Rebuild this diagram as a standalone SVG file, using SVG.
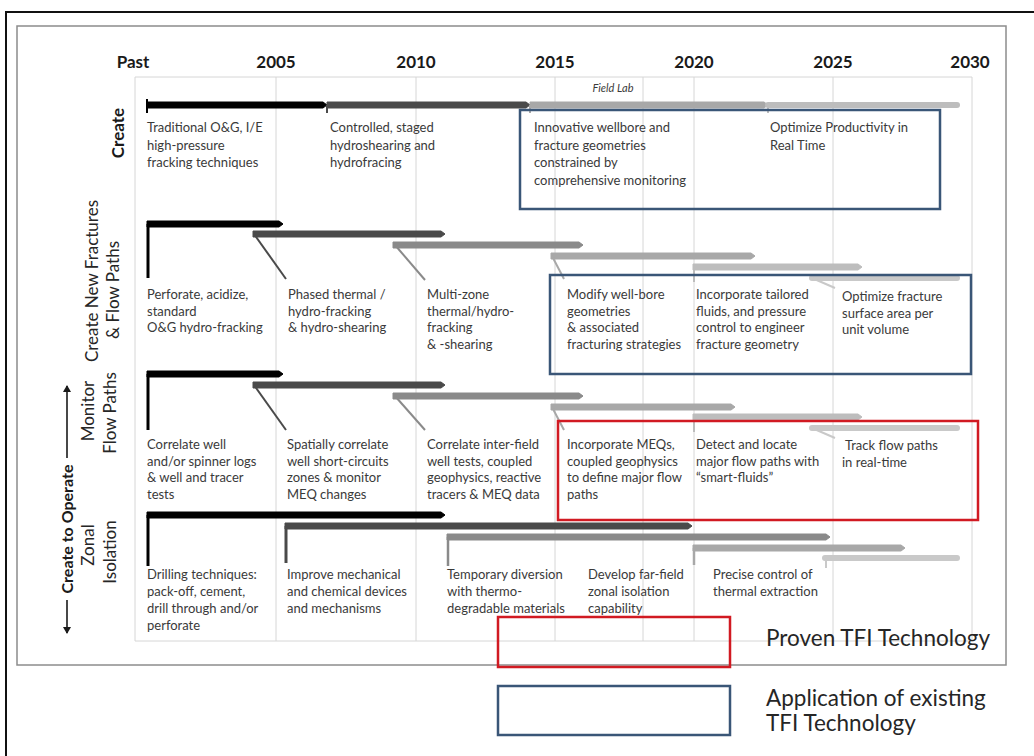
<svg xmlns="http://www.w3.org/2000/svg" width="1034" height="756" viewBox="0 0 1034 756">
<style>
text{font-family:Lato,"Liberation Sans",sans-serif;fill:#3a3a3a}
.t{font-size:13px}
.h{font-size:17px;font-weight:bold;fill:#1a1a1a;text-anchor:middle}
.rl{font-size:17px;text-anchor:middle;fill:#262626}
.rb{font-size:17px;font-weight:bold;text-anchor:middle;fill:#1a1a1a}
.ro{font-size:16px;font-weight:bold;text-anchor:middle;fill:#1a1a1a}
.fl{font-size:11px;font-style:italic;text-anchor:middle}
.lg{font-size:22.5px;fill:#262626}
.grid{stroke:#d6d6d6;stroke-width:1;fill:none}
.blue{fill:none;stroke:#3a5677;stroke-width:2.5}
.red{fill:none;stroke:#d11a22;stroke-width:2.5}
.c0{fill:#000;stroke:#000}
.c1{fill:#4a4a4a;stroke:#4a4a4a}
.c2{fill:#8a8a8a;stroke:#8a8a8a}
.c3{fill:#a8a8a8;stroke:#a8a8a8}
.c4{fill:#bdbdbd;stroke:#bdbdbd}
.c5{fill:#c9c9c9;stroke:#c9c9c9}
.ln{fill:none;stroke-width:2}
</style>
<defs>
<marker id="ah" markerWidth="8" markerHeight="8" refX="6" refY="4" orient="auto" markerUnits="userSpaceOnUse"><path d="M0,0 L7,4 L0,8 Z" fill="#1a1a1a"/></marker>
</defs>
<rect width="1034" height="756" fill="#fff"/>
<rect x="6" y="12" width="1040" height="760" fill="none" stroke="#111" stroke-width="2"/>
<rect x="17" y="26" width="989" height="639" fill="none" stroke="#8c8c8c" stroke-width="1.5"/>

<g id="grid">
<path class="grid" d="M135,77 H972 M135,77 V641 H972 M276,77 V641 M416,77 V641 M555,77 V641 M643,77 V641 M694,77 V641 M833,77 V641 M972,77 V641"/>
</g>

<g id="headers">
<text class="h" x="133" y="68">Past</text>
<text class="h" x="276" y="68">2005</text>
<text class="h" x="416" y="68">2010</text>
<text class="h" x="555" y="68">2015</text>
<text class="h" x="694" y="68">2020</text>
<text class="h" x="833" y="68">2025</text>
<text class="h" x="970" y="68">2030</text>
</g>

<g id="row-labels">
<text class="rb" transform="translate(124,133) rotate(-90)">Create</text>
<text class="rl" transform="translate(98,281) rotate(-90)">Create New Fractures</text>
<text class="rl" transform="translate(119,290) rotate(-90)">&amp; Flow Paths</text>
<text class="rl" transform="translate(94,411) rotate(-90)">Monitor</text>
<text class="rl" transform="translate(116,413) rotate(-90)">Flow Paths</text>
<text class="rl" transform="translate(94,545) rotate(-90)">Zonal</text>
<text class="rl" transform="translate(116,552) rotate(-90)">Isolation</text>
<text class="ro" transform="translate(73,529) rotate(-90)">Create to Operate</text>
<line x1="67" y1="458" x2="67" y2="386" stroke="#1a1a1a" stroke-width="1.6" marker-end="url(#ah)"/>
<line x1="67" y1="600" x2="67" y2="633" stroke="#1a1a1a" stroke-width="1.6" marker-end="url(#ah)"/>
</g>

<g id="connectors">
<polygon class="c0" points="147,102 323,102 327,105 323,108 147,108"/>
<line class="c0" x1="147" y1="99" x2="147" y2="113" stroke-width="2"/>
<polygon class="c1" points="327,102 526,102 530,105 526,108 327,108"/>
<line class="c1" x1="327" y1="105" x2="327" y2="113" stroke-width="2"/>
<polygon class="c3" points="530,102 764,102 768,105 764,108 530,108"/>
<line class="c3" x1="530" y1="105" x2="530" y2="113" stroke-width="2"/>
<line class="c4" x1="768" y1="105" x2="957" y2="105" stroke-width="6" stroke-linecap="round"/>
<line class="c4" x1="768" y1="105" x2="768" y2="113" stroke-width="2"/>
<polygon class="c0" points="147,221 279,221 283,224 279,227 147,227"/>
<line class="c0" x1="148" y1="224" x2="148" y2="278" stroke-width="3"/>
<polygon class="c1" points="253,231 441,231 445,234 441,237 253,237"/>
<line class="c1 ln" x1="254" y1="234" x2="286" y2="279"/>
<polygon class="c2" points="393,242 579,242 583,245 579,248 393,248"/>
<line class="c2 ln" x1="395" y1="245" x2="425" y2="280"/>
<polygon class="c3" points="551,253 751,253 755,256 751,259 551,259"/>
<line class="c3 ln" x1="552" y1="256" x2="564" y2="279"/>
<polygon class="c4" points="693,264 858,264 862,267 858,270 693,270"/>
<line class="c4 ln" x1="694" y1="267" x2="694" y2="282"/>
<line class="c5" x1="812" y1="278" x2="957" y2="278" stroke-width="6" stroke-linecap="round"/>
<line class="c5 ln" x1="812" y1="278" x2="835" y2="288"/>
<polygon class="c0" points="147,371 279,371 283,374 279,377 147,377"/>
<line class="c0" x1="148" y1="374" x2="148" y2="430" stroke-width="3"/>
<polygon class="c1" points="253,382 441,382 445,385 441,388 253,388"/>
<line class="c1 ln" x1="254" y1="385" x2="286" y2="430"/>
<polygon class="c2" points="393,393 579,393 583,396 579,399 393,399"/>
<line class="c2 ln" x1="395" y1="396" x2="425" y2="430"/>
<polygon class="c3" points="551,404 731,404 735,407 731,410 551,410"/>
<line class="c3 ln" x1="552" y1="407" x2="564" y2="430"/>
<polygon class="c4" points="693,414 858,414 862,417 858,420 693,420"/>
<line class="c4 ln" x1="694" y1="417" x2="694" y2="432"/>
<line class="c5" x1="812" y1="428" x2="957" y2="428" stroke-width="6" stroke-linecap="round"/>
<line class="c5 ln" x1="812" y1="428" x2="835" y2="438"/>
<polygon class="c0" points="147,512 441,512 445,515 441,518 147,518"/>
<line class="c0" x1="148" y1="515" x2="148" y2="566" stroke-width="3"/>
<polygon class="c1" points="285,523 688,523 692,526 688,529 285,529"/>
<line class="c1" x1="286" y1="526" x2="286" y2="563" stroke-width="3"/>
<polygon class="c2" points="447,534 826,534 830,537 826,540 447,540"/>
<line class="c2" x1="448" y1="537" x2="448" y2="566" stroke-width="2.5"/>
<polygon class="c3" points="693,545 901,545 905,548 901,551 693,551"/>
<line class="c3" x1="694" y1="548" x2="694" y2="565" stroke-width="2.5"/>
<line class="c5" x1="825" y1="558" x2="957" y2="558" stroke-width="6" stroke-linecap="round"/>
<line class="c5" x1="826" y1="558" x2="826" y2="568" stroke-width="2"/>
</g>

<g id="field-lab"><text class="fl" x="613" y="92">Field Lab</text></g>

<g id="box-create-blue"><rect class="blue" x="520" y="110" width="420" height="99"/></g>
<g id="box-fracture-blue"><rect class="blue" x="550" y="275" width="421" height="99"/></g>
<g id="box-monitor-red"><rect class="red" x="558" y="421" width="420" height="99"/></g>

<g id="create-1"><text class="t" x="147" y="132">Traditional O&amp;G, I/E<tspan x="147" dy="17.5">high-pressure</tspan><tspan x="147" dy="17.5">fracking techniques</tspan></text></g>
<g id="create-2"><text class="t" x="330" y="132">Controlled, staged<tspan x="330" dy="17.5">hydroshearing and</tspan><tspan x="330" dy="17.5">hydrofracing</tspan></text></g>
<g id="create-3"><text class="t" x="534" y="132">Innovative wellbore and<tspan x="534" dy="17.5">fracture geometries</tspan><tspan x="534" dy="17.5">constrained by</tspan><tspan x="534" dy="17.5">comprehensive monitoring</tspan></text></g>
<g id="create-4"><text class="t" x="770" y="132">Optimize Productivity in<tspan x="770" dy="17.5">Real Time</tspan></text></g>

<g id="frac-1"><text class="t" x="147" y="299">Perforate, acidize,<tspan x="147" dy="16.7">standard</tspan><tspan x="147" dy="16.7">O&amp;G hydro-fracking</tspan></text></g>
<g id="frac-2"><text class="t" x="288" y="299">Phased thermal /<tspan x="288" dy="16.7">hydro-fracking</tspan><tspan x="288" dy="16.7">&amp; hydro-shearing</tspan></text></g>
<g id="frac-3"><text class="t" x="427" y="299">Multi-zone<tspan x="427" dy="16.7">thermal/hydro-</tspan><tspan x="427" dy="16.7">fracking</tspan><tspan x="427" dy="16.7">&amp; -shearing</tspan></text></g>
<g id="frac-4"><text class="t" x="567" y="299">Modify well-bore<tspan x="567" dy="16.7">geometries</tspan><tspan x="567" dy="16.7">&amp; associated</tspan><tspan x="567" dy="16.7">fracturing strategies</tspan></text></g>
<g id="frac-5"><text class="t" x="696" y="299">Incorporate tailored<tspan x="696" dy="16.7">fluids, and pressure</tspan><tspan x="696" dy="16.7">control to engineer</tspan><tspan x="696" dy="16.7">fracture geometry</tspan></text></g>
<g id="frac-6"><text class="t" x="842" y="301">Optimize fracture<tspan x="842" dy="16.7">surface area per</tspan><tspan x="842" dy="16.7">unit volume</tspan></text></g>

<g id="mon-1"><text class="t" x="147" y="449">Correlate well<tspan x="147" dy="16.7">and/or spinner logs</tspan><tspan x="147" dy="16.7">&amp; well and tracer</tspan><tspan x="147" dy="16.7">tests</tspan></text></g>
<g id="mon-2"><text class="t" x="287" y="449">Spatially correlate<tspan x="287" dy="16.7">well short-circuits</tspan><tspan x="287" dy="16.7">zones &amp; monitor</tspan><tspan x="287" dy="16.7">MEQ changes</tspan></text></g>
<g id="mon-3"><text class="t" x="427" y="449">Correlate inter-field<tspan x="427" dy="16.7">well tests, coupled</tspan><tspan x="427" dy="16.7">geophysics, reactive</tspan><tspan x="427" dy="16.7">tracers &amp; MEQ data</tspan></text></g>
<g id="mon-4"><text class="t" x="567" y="449">Incorporate MEQs,<tspan x="567" dy="16.7">coupled geophysics</tspan><tspan x="567" dy="16.7">to define major flow</tspan><tspan x="567" dy="16.7">paths</tspan></text></g>
<g id="mon-5"><text class="t" x="696" y="449">Detect and locate<tspan x="696" dy="16.7">major flow paths with</tspan><tspan x="696" dy="16.7">“smart-fluids”</tspan></text></g>
<g id="mon-6"><text class="t" x="845" y="450">Track flow paths<tspan x="842" dy="16.7">in real-time</tspan></text></g>

<g id="zone-1"><text class="t" x="147" y="579">Drilling techniques:<tspan x="147" dy="17">pack-off, cement,</tspan><tspan x="147" dy="17">drill through and/or</tspan><tspan x="147" dy="17">perforate</tspan></text></g>
<g id="zone-2"><text class="t" x="287" y="579">Improve mechanical<tspan x="287" dy="17">and chemical devices</tspan><tspan x="287" dy="17">and mechanisms</tspan></text></g>
<g id="zone-3"><text class="t" x="447" y="579">Temporary diversion<tspan x="447" dy="17">with thermo-</tspan><tspan x="447" dy="17">degradable materials</tspan></text></g>
<g id="zone-4"><text class="t" x="588" y="579">Develop far-field<tspan x="588" dy="17">zonal isolation</tspan><tspan x="588" dy="17">capability</tspan></text></g>
<g id="zone-5"><text class="t" x="713" y="579">Precise control of<tspan x="713" dy="17">thermal extraction</tspan></text></g>

<g id="legend-proven"><rect class="red" x="498" y="617" width="232" height="50"/><text class="lg" x="766" y="646">Proven TFI Technology</text></g>
<g id="legend-application"><rect class="blue" x="498" y="686" width="232" height="49"/><text class="lg" x="766" y="706">Application of existing<tspan x="766" dy="25">TFI Technology</tspan></text></g>
</svg>
